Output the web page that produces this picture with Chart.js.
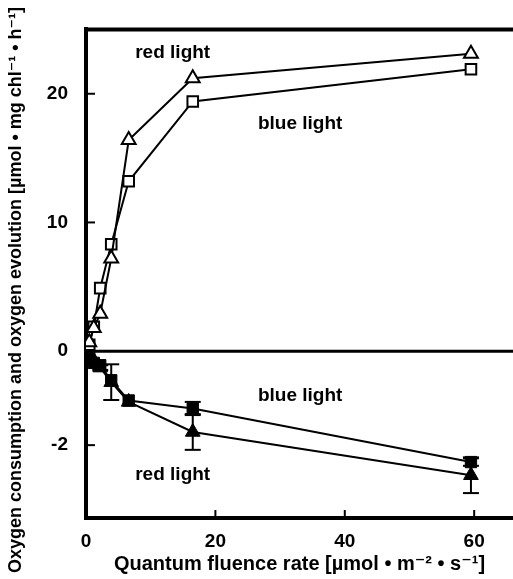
<!DOCTYPE html>
<html lang="en">
<head>
<meta charset="UTF-8">
<title>Oxygen consumption and oxygen evolution</title>
<script src="https://cdn.jsdelivr.net/npm/chart.js"></script>
<style>
    html, body { margin: 0; padding: 0; background: #fff; overflow: hidden; }
    #grafico-box { width: 513px; height: 579px; }
</style>
</head>
<body>
<div id="grafico-box"><canvas id="grafico"></canvas></div>
<script>
    // quantum fluence rate [umol m-2 s-1]
    const fluence = [0.5, 1.2, 2.2, 3.9, 6.6, 16.5, 59.5];

    // oxygen evolution (upper panel), open symbols
    const redEvolution  = [0.7, 1.8, 2.9, 7.2, 16.4, 21.2, 23.1];
    const blueEvolution = [0.5, 1.9, 4.9, 8.3, 13.2, 19.4, 21.9];

    // oxygen consumption (lower panel), filled symbols
    const redConsumption  = [-0.1, -0.2, -0.35, -0.66, -1.08, -1.72, -2.64];
    const redConsErr      = [0, 0, 0.05, 0.38, 0, 0.38, 0.38];
    const blueConsumption = [-0.1, -0.25, -0.3, -0.62, -1.05, -1.22, -2.36];
    const blueConsErr     = [0, 0, 0, 0, 0, 0.14, 0.08];

    const xTicks = [0, 20, 40, 60];
    const yTopTicks = [0, 10, 20];
    const yBotTicks = [-2, 0];

    // in-plot labels, placed in data coordinates
    const labelText = ['red light', 'blue light', 'blue light', 'red light'];
    const labelX    = [13.4, 33.1, 33.1, 13.4];
    const labelY    = [23.2, 17.7, -0.94, -2.64];
    const labelAxis = ['yTop', 'yTop', 'yBot', 'yBot'];

    const FONT = '"Liberation Sans", Arial, "DejaVu Sans", sans-serif';

    function pontos(ys) {
        return fluence.map((x, i) => ({ x: x, y: ys[i] }));
    }

    function linha(ctx, x1, y1, x2, y2) {
        ctx.beginPath();
        ctx.moveTo(x1, y1);
        ctx.lineTo(x2, y2);
        ctx.stroke();
    }

    const moldura = {
        id: 'moldura',
        beforeDatasetsDraw(chart) {
            const { ctx, chartArea: a, scales } = chart;
            ctx.save();
            ctx.strokeStyle = '#000';
            ctx.lineWidth = 4;
            linha(ctx, a.left - 2, a.top, a.right, a.top);
            const y0 = scales.yBot.getPixelForValue(0);
            ctx.lineWidth = 3;
            linha(ctx, a.left, y0, a.right, y0);

            // ticks pointing inwards
            ctx.lineWidth = 2;
            scales.x.ticks.forEach(t => {
                if (t.value === 0) return;
                const px = scales.x.getPixelForValue(t.value);
                linha(ctx, px, a.bottom, px, a.bottom - 8);
            });
            ['yTop', 'yBot'].forEach(id => {
                scales[id].ticks.forEach(t => {
                    if (t.value === 0) return;
                    const py = scales[id].getPixelForValue(t.value);
                    linha(ctx, a.left, py, a.left + 9, py);
                });
            });

            // error bars
            ctx.lineWidth = 2;
            chart.data.datasets.forEach(ds => {
                if (!ds.erros) return;
                const sy = scales[ds.yAxisID];
                ds.data.forEach((p, j) => {
                    const e = ds.erros[j];
                    if (!e) return;
                    const px = scales.x.getPixelForValue(p.x);
                    const hi = sy.getPixelForValue(p.y + e);
                    const lo = sy.getPixelForValue(p.y - e);
                    linha(ctx, px, hi, px, lo);
                    linha(ctx, px - 8, hi, px + 8, hi);
                    linha(ctx, px - 8, lo, px + 8, lo);
                });
            });
            ctx.restore();
        },
        afterDraw(chart) {
            const { ctx, scales } = chart;
            ctx.save();
            ctx.fillStyle = '#000';
            ctx.font = 'bold 19px ' + FONT;
            ctx.textAlign = 'center';
            ctx.textBaseline = 'middle';
            labelText.forEach((txt, i) => {
                ctx.fillText(txt, scales.x.getPixelForValue(labelX[i]), scales[labelAxis[i]].getPixelForValue(labelY[i]));
            });

            // y title across both panels
            ctx.translate(16, 290);
            ctx.rotate(-Math.PI / 2);
            ctx.font = 'bold 18px ' + FONT;
            ctx.fillText('Oxygen consumption and oxygen evolution [\u00b5mol \u2022 mg chl\u207b\u00b9 \u2022 h\u207b\u00b9]', 0, 0);
            ctx.restore();
        }
    };

    function criarGrafico() {
        const ctx = document.getElementById('grafico').getContext('2d');
        const tickFont = { family: FONT, size: 19, weight: 'bold' };

        const config = {
            type: 'line',
            data: {
                datasets: [
                    {
                        label: 'red light, evolution',
                        data: pontos(redEvolution),
                        yAxisID: 'yTop',
                        borderColor: '#000', borderWidth: 2,
                        pointStyle: 'triangle', pointRadius: 8,
                        pointBackgroundColor: '#fff', pointBorderColor: '#000', pointBorderWidth: 2
                    },
                    {
                        label: 'blue light, evolution',
                        data: pontos(blueEvolution),
                        yAxisID: 'yTop',
                        borderColor: '#000', borderWidth: 2,
                        pointStyle: 'rect', pointRadius: 7.5,
                        pointBackgroundColor: '#fff', pointBorderColor: '#000', pointBorderWidth: 2
                    },
                    {
                        label: 'red light, consumption',
                        data: pontos(redConsumption),
                        erros: redConsErr,
                        yAxisID: 'yBot',
                        borderColor: '#000', borderWidth: 2,
                        pointStyle: 'triangle', pointRadius: 8.5,
                        pointBackgroundColor: '#000', pointBorderColor: '#000', pointBorderWidth: 1
                    },
                    {
                        label: 'blue light, consumption',
                        data: pontos(blueConsumption),
                        erros: blueConsErr,
                        yAxisID: 'yBot',
                        borderColor: '#000', borderWidth: 2,
                        pointStyle: 'rect', pointRadius: 8,
                        pointBackgroundColor: '#000', pointBorderColor: '#000', pointBorderWidth: 1
                    }
                ]
            },
            options: {
                responsive: true,
                maintainAspectRatio: false,
                animation: false,
                layout: { autoPadding: false, padding: { top: 29, right: 0, bottom: 0, left: 0 } },
                plugins: { legend: { display: false }, tooltip: { enabled: false } },
                scales: {
                    x: {
                        type: 'linear', min: 0, max: 66,
                        afterBuildTicks: s => { s.ticks = xTicks.map(v => ({ value: v })); },
                        afterFit: s => { s.height = 61; },
                        grid: { display: false, drawTicks: false },
                        border: { display: true, color: '#000', width: 4 },
                        ticks: { color: '#000', font: tickFont, padding: 12, maxRotation: 0 },
                        title: {
                            display: true,
                            text: 'Quantum fluence rate [\u00b5mol \u2022 m\u207b\u00b2 \u2022 s\u207b\u00b9]',
                            color: '#000',
                            font: { family: FONT, size: 20, weight: 'bold' },
                            padding: { top: 4, bottom: 3 }
                        }
                    },
                    yBot: {
                        type: 'linear', position: 'left', stack: 'y', stackWeight: 167,
                        min: -3.55, max: 0,
                        afterBuildTicks: s => { s.ticks = yBotTicks.map(v => ({ value: v })); },
                        afterFit: s => { s.width = 86; },
                        grid: { display: false, drawTicks: false },
                        border: { display: true, color: '#000', width: 4 },
                        ticks: { color: '#000', font: tickFont, padding: 18 }
                    },
                    yTop: {
                        type: 'linear', position: 'left', stack: 'y', stackWeight: 322,
                        min: 0, max: 25,
                        afterBuildTicks: s => { s.ticks = yTopTicks.map(v => ({ value: v })); },
                        afterFit: s => { s.width = 86; },
                        grid: { display: false, drawTicks: false },
                        border: { display: true, color: '#000', width: 4 },
                        ticks: {
                            color: '#000', font: tickFont, padding: 18,
                            callback: v => (v === 0 ? '' : v)
                        }
                    }
                }
            },
            plugins: [moldura]
        };
        new Chart(ctx, config);
    }

    window.onload = function() {
        criarGrafico();
    };
</script>
</body>
</html>
